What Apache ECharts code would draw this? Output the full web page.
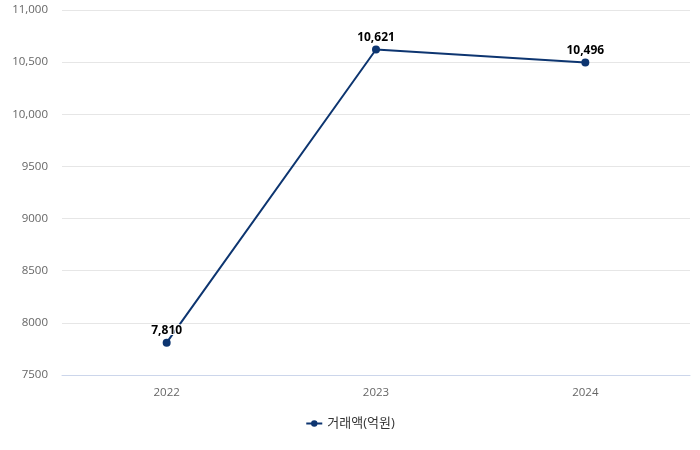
<!DOCTYPE html>
<html>
<head>
<meta charset="utf-8">
<script src="https://cdn.jsdelivr.net/npm/echarts@6/dist/echarts.min.js"></script>
<style>html,body{margin:0;padding:0;background:#fff}#c{width:700px;height:450px}</style>
</head>
<body>
<div id="c"></div>
<script>
var categories = ['2022', '2023', '2024'];
var values = [7810, 10621, 10496];
var seriesName = '거래액(억원)';
var yMin = 7500, yMax = 11000, yStep = 500;

function fmt(v) {
  return v >= 10000 ? v.toString().replace(/\B(?=(\d{3})+(?!\d))/g, ',') : String(v);
}
var FONT = '"Open Sans", "Noto Sans CJK KR", sans-serif';
var chart = echarts.init(document.getElementById('c'), null, {renderer: 'canvas'});
chart.setOption({
  animation: false,
  backgroundColor: '#fff',
  grid: {left: 62, right: 10, top: 10, bottom: 75, containLabel: false},
  legend: {
    bottom: 15, left: 'center',
    itemWidth: 16, itemHeight: 8, itemGap: 10,
    textStyle: {fontFamily: FONT, fontSize: 13, color: '#333'},
    data: [seriesName]
  },
  xAxis: {
    type: 'category', data: categories, boundaryGap: true,
    axisLine: {lineStyle: {color: '#ccd6eb'}},
    axisTick: {show: false},
    axisLabel: {color: '#666', fontSize: 11.5, fontFamily: FONT, margin: 12}
  },
  yAxis: {
    type: 'value', min: yMin, max: yMax, interval: yStep,
    axisLine: {show: false}, axisTick: {show: false},
    splitLine: {lineStyle: {color: '#e6e6e6'}},
    axisLabel: {color: '#666', fontSize: 11.5, fontFamily: FONT, margin: 14, formatter: fmt}
  },
  series: [{
    name: seriesName, type: 'line', data: values,
    symbol: 'circle', symbolSize: 8,
    itemStyle: {color: '#0d3570'},
    lineStyle: {color: '#0d3570', width: 2},
    label: {
      show: true, position: 'top', distance: 2,
      fontFamily: FONT, fontSize: 12, fontWeight: 'bold', color: '#000',
      textBorderColor: '#fff', textBorderWidth: 2,
      formatter: function (p) { return p.value.toString().replace(/\B(?=(\d{3})+(?!\d))/g, ','); }
    }
  }]
});
</script>
</body>
</html>
